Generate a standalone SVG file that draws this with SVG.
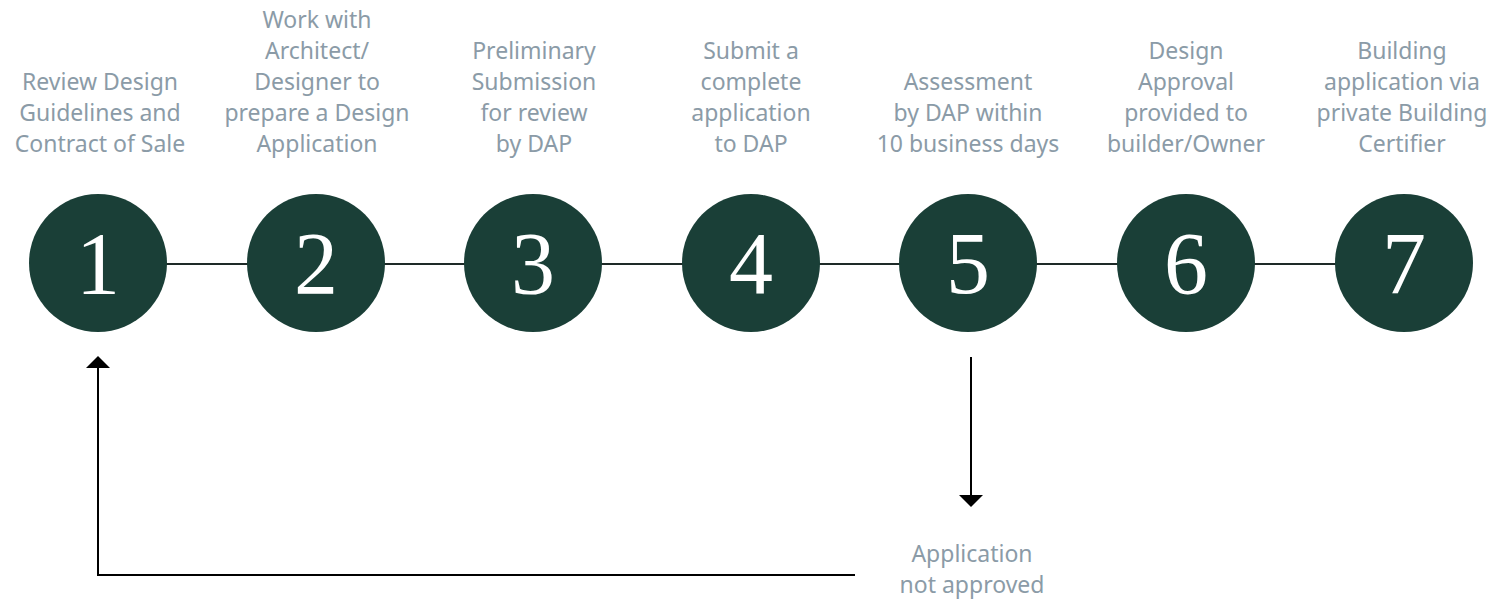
<svg xmlns="http://www.w3.org/2000/svg" width="1508" height="601" viewBox="0 0 1508 601">
<defs>
<style>
.lbl{font-family:"Noto Sans","Open Sans",sans-serif;font-size:23px;fill:#8b9ba7;text-anchor:middle}
.num{font-family:"Liberation Serif",serif;font-size:88px;fill:#ffffff;text-anchor:middle}
.dot{fill:#1a3f37}
.conn{stroke:#1e2a28;stroke-width:2;fill:none}
.arr{stroke:#000;stroke-width:2;fill:none}
</style>
</defs>
<rect width="1508" height="601" fill="#fff"/>
<g id="connectors">
<line class="conn" x1="98" y1="264" x2="1404" y2="264"/>
<polyline class="arr" points="855,575 98,575 98,366"/>
<polygon points="98,356 86,368 110,368" fill="#000"/>
<line class="arr" x1="971" y1="357" x2="971" y2="497"/>
<polygon points="971,507 959,495 983,495" fill="#000"/>
</g>
<g id="node1">
<circle class="dot" cx="98" cy="263" r="69"/>
<text class="num" x="98" y="293">1</text>
<text class="lbl" x="100"><tspan x="100" y="90">Review Design</tspan><tspan x="100" y="121">Guidelines and</tspan><tspan x="100" y="152">Contract of Sale</tspan></text>
</g>
<g id="node2">
<circle class="dot" cx="316" cy="263" r="69"/>
<text class="num" x="316" y="293">2</text>
<text class="lbl"><tspan x="317" y="28">Work with</tspan><tspan x="317" y="59">Architect/</tspan><tspan x="317" y="90">Designer to</tspan><tspan x="317" y="121">prepare a Design</tspan><tspan x="317" y="152">Application</tspan></text>
</g>
<g id="node3">
<circle class="dot" cx="533" cy="263" r="69"/>
<text class="num" x="533" y="293">3</text>
<text class="lbl"><tspan x="534" y="59">Preliminary</tspan><tspan x="534" y="90">Submission</tspan><tspan x="534" y="121">for review</tspan><tspan x="534" y="152">by DAP</tspan></text>
</g>
<g id="node4">
<circle class="dot" cx="751" cy="263" r="69"/>
<text class="num" x="751" y="293">4</text>
<text class="lbl"><tspan x="751" y="59">Submit a</tspan><tspan x="751" y="90">complete</tspan><tspan x="751" y="121">application</tspan><tspan x="751" y="152">to DAP</tspan></text>
</g>
<g id="node5">
<circle class="dot" cx="968" cy="263" r="69"/>
<text class="num" x="968" y="293">5</text>
<text class="lbl"><tspan x="968" y="90">Assessment</tspan><tspan x="968" y="121">by DAP within</tspan><tspan x="968" y="152">10 business days</tspan></text>
</g>
<g id="node6">
<circle class="dot" cx="1186" cy="263" r="69"/>
<text class="num" x="1186" y="293">6</text>
<text class="lbl"><tspan x="1186" y="59">Design</tspan><tspan x="1186" y="90">Approval</tspan><tspan x="1186" y="121">provided to</tspan><tspan x="1186" y="152">builder/Owner</tspan></text>
</g>
<g id="node7">
<circle class="dot" cx="1404" cy="263" r="69"/>
<text class="num" x="1404" y="293">7</text>
<text class="lbl"><tspan x="1402" y="59">Building</tspan><tspan x="1402" y="90">application via</tspan><tspan x="1402" y="121">private Building</tspan><tspan x="1402" y="152">Certifier</tspan></text>
</g>
<g id="notApproved">
<text class="lbl"><tspan x="972" y="562">Application</tspan><tspan x="972" y="593">not approved</tspan></text>
</g>
</svg>
